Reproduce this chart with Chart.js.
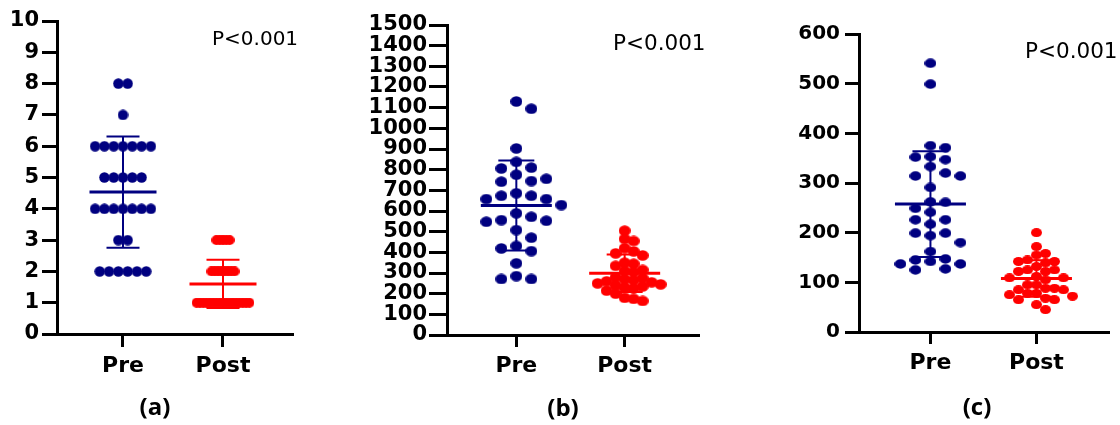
<!DOCTYPE html>
<html>
<head>
<meta charset="utf-8">
<script src="https://cdn.jsdelivr.net/npm/chart.js@4.4.1/dist/chart.umd.min.js"></script>
<style>
  html, body { margin: 0; padding: 0; background: #fff; }
  body { width: 1120px; height: 425px; position: relative; overflow: hidden; }
  canvas { position: absolute; top: 0; }
</style>
</head>
<body>
<canvas id="chartA" width="320" height="425" style="left:0px"></canvas>
<canvas id="chartB" width="380" height="425" style="left:340px"></canvas>
<canvas id="chartC" width="340" height="425" style="left:780px"></canvas>
<script>
// groups on the x axis
const groups = ['Pre', 'Post'];

// (a) 0-10 score
const preA = [8, 8, 7, 6, 6, 6, 6, 6, 6, 6, 5, 5, 5, 5, 5, 4, 4, 4, 4, 4, 4, 4, 3, 3, 2, 2, 2, 2, 2, 2];
const postA = [3, 3, 3, 3, 3, 2, 2, 2, 2, 2, 2, 2, 2, 1, 1, 1, 1, 1, 1, 1, 1, 1, 1, 1, 1, 1, 1, 1, 1, 1];

// (b)
const preB = [1130, 1095, 903, 838, 810, 806, 776, 756, 745, 742, 686, 674, 674, 658, 658, 629, 589, 572, 556, 553,
              548, 508, 471, 431, 419, 406, 347, 285, 271, 271];
const postB = [505, 465, 455, 420, 405, 395, 385, 350, 345, 335, 315, 310, 305, 280, 275, 270, 265, 260, 255, 250,
               245, 240, 235, 230, 225, 215, 200, 180, 175, 165];

// (c)
const preC = [541, 499, 375, 371, 353, 352, 347, 333, 320, 314, 314, 291, 262, 261, 249, 241, 226, 226, 217, 199,
              199, 194, 180, 162, 147, 145, 142, 137, 137, 127, 125];
const postC = [200, 172, 158, 155, 145, 142, 142, 139, 132, 125, 125, 122, 122, 112, 109, 109, 105, 95, 95, 88,
               88, 85, 85, 78, 78, 75, 72, 68, 65, 65, 55, 45];

const pValue = 'P<0.001';
const colors = ['#000080', '#ff0000'];

function dot(color, w, h) {
    const c = document.createElement('canvas');
    c.width = Math.ceil(w);
    c.height = Math.ceil(h);
    const g = c.getContext('2d');
    g.fillStyle = color;
    g.beginPath();
    g.ellipse(c.width / 2, c.height / 2, w / 2, h / 2, 0, 0, Math.PI * 2);
    g.fill();
    return c;
}

const mean = a => a.reduce((s, v) => s + v, 0) / a.length;
const sd = a => {
    const m = mean(a);
    return Math.sqrt(a.reduce((s, v) => s + (v - m) * (v - m), 0) / (a.length - 1));
};

// mean +- SD bars, drawn over the dots
function errorBars(p) {
    return {
        id: 'errorBars',
        afterDatasetsDraw(chart) {
            const { ctx, scales: { x, y } } = chart;
            chart.data.datasets.forEach((ds, g) => {
                const vals = ds.data.map(pt => pt.y);
                const m = mean(vals), s = sd(vals);
                const cx = x.getPixelForValue(g + 1);
                const ym = y.getPixelForValue(m);
                const yt = y.getPixelForValue(m + s);
                const yb = y.getPixelForValue(m - s);
                ctx.save();
                ctx.strokeStyle = colors[g];
                ctx.lineWidth = 2;
                ctx.beginPath();
                ctx.moveTo(cx, yt); ctx.lineTo(cx, yb);
                ctx.moveTo(cx - p.cap, yt); ctx.lineTo(cx + p.cap, yt);
                ctx.moveTo(cx - p.cap, yb); ctx.lineTo(cx + p.cap, yb);
                ctx.stroke();
                ctx.lineWidth = 3;
                ctx.beginPath();
                ctx.moveTo(cx - p.meanW, ym); ctx.lineTo(cx + p.meanW, ym);
                ctx.stroke();
                ctx.restore();
            });
        }
    };
}

function notes(p) {
    return {
        id: 'notes',
        afterDraw(chart) {
            const ctx = chart.ctx;
            p.notes.forEach(t => {
                ctx.save();
                ctx.font = t.font;
                ctx.fillStyle = '#000';
                ctx.textAlign = t.align;
                ctx.textBaseline = t.base;
                ctx.fillText(t.text, t.x, t.y);
                ctx.restore();
            });
        }
    };
}

// spread the dots sideways: rows of equal values, or a simple swarm
function arrange(chart, p) {
    const xs = chart.scales.x, ys = chart.scales.y;
    chart.data.datasets.forEach((ds, g) => {
        const cx = xs.getPixelForValue(g + 1);
        const lay = p.layout[g];
        if (lay.rows) {
            const counts = {}, seen = {};
            ds.data.forEach(pt => { counts[pt.y] = (counts[pt.y] || 0) + 1; });
            ds.data.forEach(pt => {
                const i = seen[pt.y] = (seen[pt.y] === undefined ? 0 : seen[pt.y] + 1);
                pt.x = xs.getValueForPixel(cx + (i - (counts[pt.y] - 1) / 2) * lay.slot);
            });
        } else {
            const placed = [];
            ds.data.slice().sort((a, b) => b.y - a.y).forEach(pt => {
                const py = ys.getPixelForValue(pt.y);
                for (let k = 0; k < 40; k++) {
                    const col = k === 0 ? 0 : (k % 2 ? (k + 1) / 2 : -k / 2);
                    const px = cx + col * lay.slot;
                    if (placed.every(q => Math.hypot(q.px - px, q.py - py) >= lay.gap)) {
                        placed.push({ px, py });
                        pt.x = xs.getValueForPixel(px);
                        break;
                    }
                }
            });
        }
    });
}

function makeChart(p) {
    const chart = new Chart(document.getElementById(p.id), {
        type: 'scatter',
        data: {
            datasets: [p.pre, p.post].map((vals, g) => ({
                label: groups[g],
                data: vals.map(v => ({ x: g + 1, y: v })),
                pointStyle: dot(colors[g], p.dot[g][0], p.dot[g][1]),
                backgroundColor: colors[g],
                borderWidth: 0
            }))
        },
        options: {
            responsive: false,
            animation: false,
            events: [],
            layout: { padding: { top: p.top, right: p.right, left: 0, bottom: 0 } },
            plugins: {
                legend: { display: false },
                tooltip: { enabled: false }
            },
            scales: {
                x: {
                    type: 'linear',
                    min: p.xMin,
                    max: p.xMax,
                    afterBuildTicks: s => { s.ticks = [{ value: 1 }, { value: 2 }]; },
                    afterFit: s => { s.height = p.xHeight; },
                    ticks: {
                        callback: v => groups[v - 1],
                        color: '#000',
                        font: { family: 'DejaVu Sans', weight: 'bold', size: 22 },
                        padding: p.xPad,
                        autoSkip: false,
                        maxRotation: 0
                    },
                    grid: { drawOnChartArea: false, color: '#000', lineWidth: 3, tickLength: p.xTick },
                    border: { color: '#000', width: 3 }
                },
                y: {
                    min: 0,
                    max: p.yMax,
                    afterFit: s => { s.width = p.yWidth; },
                    ticks: {
                        stepSize: p.yStep,
                        autoSkip: false,
                        callback: v => String(v),
                        color: '#000',
                        font: { family: 'DejaVu Sans', weight: 'bold', size: p.yFont },
                        padding: p.yPad
                    },
                    grid: { drawOnChartArea: false, color: '#000', lineWidth: 3, tickLength: p.yTick },
                    border: { color: '#000', width: 3 }
                }
            }
        },
        plugins: [errorBars(p), notes(p)]
    });
    arrange(chart, p);
    chart.update('none');
    return chart;
}

const pFont = size => size + 'px "DejaVu Sans"';
const tagFont = '700 24px "Open Sans"';

makeChart({
    id: 'chartA', pre: preA, post: postA,
    yMax: 10, yStep: 1, yFont: 21, yWidth: 57, yTick: 15, yPad: 3,
    xMin: 0.34, xMax: 2.69, xHeight: 91, xTick: 13, xPad: 6,
    top: 21, right: 28,
    dot: [[10.5, 10.5], [10, 10]],
    layout: [{ rows: true, slot: 9.3 }, { rows: true, slot: 3.3 }],
    meanW: 33.5, cap: 16.5,
    notes: [
        { text: pValue, x: 212, y: 45, font: pFont(20), align: 'left', base: 'alphabetic' },
        { text: '(a)', x: 155, y: 408.5, font: tagFont, align: 'center', base: 'middle' }
    ]
});

makeChart({
    id: 'chartB', pre: preB, post: postB,
    yMax: 1500, yStep: 100, yFont: 21, yWidth: 107, yTick: 18, yPad: 2,
    xMin: 0.36, xMax: 2.677, xHeight: 90, xTick: 12, xPad: 6,
    top: 25, right: 22,
    dot: [[12, 10.5], [12, 10.5]],
    layout: [{ slot: 15, gap: 12 }, { slot: 9, gap: 8 }],
    meanW: 35.5, cap: 18,
    notes: [
        { text: pValue, x: 273, y: 49.5, font: pFont(21.5), align: 'left', base: 'alphabetic' },
        { text: '(b)', x: 223, y: 409, font: tagFont, align: 'center', base: 'middle' }
    ]
});

makeChart({
    id: 'chartC', pre: preC, post: postC,
    yMax: 600, yStep: 100, yFont: 20, yWidth: 79, yTick: 14, yPad: 5,
    xMin: 0.326, xMax: 2.675, xHeight: 93, xTick: 12, xPad: 6,
    top: 34, right: 12,
    dot: [[12, 9.5], [11, 9]],
    layout: [{ slot: 15, gap: 9.5 }, { slot: 9, gap: 8 }],
    meanW: 35.5, cap: 18,
    notes: [
        { text: pValue, x: 245, y: 57.5, font: pFont(21.5), align: 'left', base: 'alphabetic' },
        { text: '(c)', x: 197, y: 408, font: tagFont, align: 'center', base: 'middle' }
    ]
});
</script>
</body>
</html>
